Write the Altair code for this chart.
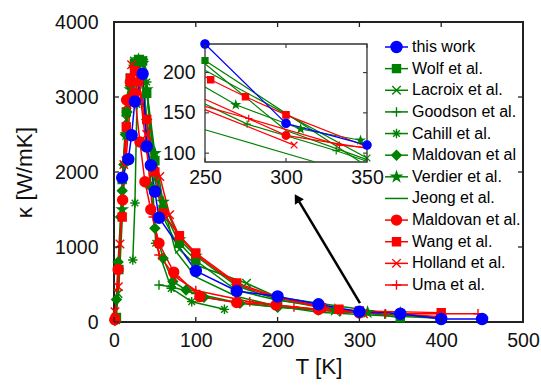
import altair as alt
import pandas as pd

# ---------------- series (main panel) ----------------
series_names = ["this work", "Wolf et al.", "Lacroix et al.", "Goodson et al.", "Cahill et al.",
                "Maldovan et al", "Verdier et al.", "Jeong et al.", "Maldovan et al.", "Wang et al.",
                "Holland et al.", "Uma et al."]

this_work_T = [10, 17.5, 21.5, 25.5, 35, 40, 45, 50, 55, 100, 150, 200, 250, 300, 350, 400, 450]
this_work_k = [1925, 2170, 2490, 2940, 3310, 2340, 2090, 1740, 1390, 680, 413, 340, 236, 137, 110, 40, 40]

wolf_T = [3, 6, 10, 15, 20, 25, 30, 35, 40, 50, 60, 80, 100, 150, 200, 250, 350]
wolf_k = [60, 700, 1900, 2800, 3250, 3450, 3500, 3480, 3050, 2150, 1500, 1050, 820, 420, 290, 215, 55]

lacroix_T = [2, 5, 10, 15, 20, 25, 30, 35, 40, 50, 60, 80, 100, 162, 200, 350]
lacroix_k = [30, 380, 1700, 2700, 3250, 3480, 3460, 3250, 2700, 1900, 1400, 970, 760, 516, 330, 94]

goodson_T = [55, 70, 100, 150, 200, 276, 331, 400]
goodson_k = [493, 470, 380, 260, 200, 136, 103, 60]

cahill_T = [23, 25.6, 28, 32, 36, 40, 45, 51, 70, 95, 135]
cahill_k = [827, 1587, 2900, 3450, 3500, 3200, 2300, 1050, 449, 271, 169]

maldovan_g_T = [1, 3, 5, 8, 10, 12, 14, 16, 20, 25, 30, 35, 40, 45, 50, 60, 72, 88, 110, 154, 200, 250, 300, 350]
maldovan_g_k = [20, 300, 800, 1400, 1750, 2100, 2500, 2800, 3150, 3400, 3450, 3300, 2700, 1800, 1250, 850, 540, 427, 330, 250, 195, 160, 128, 92]

verdier_T = [10, 15, 20, 25, 30, 35, 40, 50, 60, 80, 100, 150, 200, 270, 310, 350]
verdier_k = [1500, 2500, 3100, 3400, 3500, 3450, 3100, 2250, 1600, 1100, 880, 480, 300, 160, 130, 116]

jeong_T = [5, 10, 15, 20, 30, 40, 50, 75, 100, 150, 200, 250, 318, 400]
jeong_k = [250, 1350, 2500, 3150, 3480, 3100, 2000, 950, 600, 340, 210, 129, 89, 50]

maldovan_r_T = [1, 5, 10.6, 15.4, 20, 25, 31.7, 37.8, 45, 55, 73, 105, 150, 198, 250, 300, 350, 400]
maldovan_r_k = [30, 700, 1627, 2960, 3200, 3050, 2400, 1870, 1500, 1050, 665, 338, 260, 227, 167, 122, 106, 70]

wang_T = [10, 15, 20, 25, 30, 40, 50, 60, 80, 100, 150, 200, 253.5, 275, 300, 400]
wang_k = [1400, 2600, 3250, 3350, 3200, 2700, 2000, 1450, 1150, 920, 520, 330, 191, 170, 147.5, 125]

holland_T = [1.2, 5.3, 7.3, 12, 16, 21.5, 30, 40, 56, 68, 80, 100, 150, 200, 305]
holland_k = [137, 470, 1040, 2100, 2900, 3430, 3250, 2500, 1940, 1430, 1140, 900, 500, 320, 110]

uma_T = [15, 20, 30, 40, 48, 55, 75, 100, 166, 220, 277, 332, 445]
uma_k = [2200, 2900, 3200, 2300, 1400, 893, 600, 420, 271, 200, 143, 110, 110]

# ---------------- series as seen in the inset ----------------
in_blue_T = [250, 300, 350];            in_blue_k = [235.5, 137, 110];          in_blue_m = [1, 1, 1]
in_wolf_T = [250, 346];                 in_wolf_k = [215, 89];                  in_wolf_m = [1, 0]
in_lacroix_T = [250, 350];              in_lacroix_k = [203, 94];               in_lacroix_m = [0, 1]
in_goodson_T = [250, 276, 331, 350];    in_goodson_k = [161, 136, 103, 90];     in_goodson_m = [0, 1, 1, 0]
in_maldovan_g_T = [250, 300, 350];      in_maldovan_g_k = [211, 128, 92];       in_maldovan_g_m = [0, 0, 0]
in_verdier_T = [250, 269, 309, 346];    in_verdier_k = [182, 160, 130, 116];    in_verdier_m = [0, 1, 1, 1]
in_jeong_T = [250, 318];                in_jeong_k = [129, 89];                 in_jeong_m = [0, 0]
in_maldovan_r_T = [250, 300, 350];      in_maldovan_r_k = [167, 122, 106];      in_maldovan_r_m = [0, 1, 0]
in_wang_T = [250, 253.5, 275, 300, 350]; in_wang_k = [195, 191, 170, 147.5, 108]; in_wang_m = [0, 1, 1, 1, 0]
in_holland_T = [250, 305];              in_holland_k = [154, 110];              in_holland_m = [0, 1]
in_uma_T = [250, 277, 333, 350];        in_uma_k = [158, 143, 110, 107];        in_uma_m = [0, 1, 1, 0]

x_ticks = [0, 100, 200, 300, 400, 500]
y_ticks = [0, 1000, 2000, 3000, 4000]
inset_x_ticks = [250, 300, 350]
inset_y_ticks = [100, 150, 200]
inset_x_domain = [250, 350]
inset_y_domain = [89, 235.5]

# arrow (main-panel data coordinates): tail -> head
arrow_tail = [300.7, 253]
arrow_head = [223.8, 1652]

# ---------------- styles ----------------
BLUE, GREEN, RED = "#0000FF", "#008000", "#FF0000"
stroke_colors = [BLUE, GREEN, GREEN, GREEN, GREEN, GREEN, GREEN, GREEN, RED, RED, RED, RED]
fill_colors = [BLUE, GREEN, "transparent", "transparent", "transparent", GREEN, GREEN, "transparent",
               RED, RED, "transparent", "transparent"]
X_PATH = "M-1,-1L1,1M-1,1L1,-1"
PLUS_PATH = "M-1,0L1,0M0,-1L0,1"
AST_PATH = "M-1,0L1,0M0,-1L0,1M-0.7,-0.7L0.7,0.7M-0.7,0.7L0.7,-0.7"
STAR_PATH = ("M0,-1L0.225,-0.309L0.951,-0.309L0.363,0.118L0.588,0.809L0,0.382L-0.588,0.809"
             "L-0.363,0.118L-0.951,-0.309L-0.225,-0.309Z")
shapes = ["circle", "square", X_PATH, PLUS_PATH, AST_PATH, "diamond", STAR_PATH, "circle",
          "circle", "square", X_PATH, PLUS_PATH]
main_sizes = [121, 64, 72, 90, 90, 90, 100, 10, 100, 64, 72, 90]
inset_sizes = [70, 36, 45, 55, 55, 50, 60, 10, 60, 40, 45, 55]

stroke_scale = alt.Scale(domain=series_names, range=stroke_colors)
fill_scale = alt.Scale(domain=series_names, range=fill_colors)
shape_scale = alt.Scale(domain=series_names, range=shapes)

FONT = "Liberation Sans"
TXT = "#111111"

# ---------------- data frames ----------------
main_list = [this_work_T, wolf_T, lacroix_T, goodson_T, cahill_T, maldovan_g_T, verdier_T, jeong_T,
             maldovan_r_T, wang_T, holland_T, uma_T]
main_klist = [this_work_k, wolf_k, lacroix_k, goodson_k, cahill_k, maldovan_g_k, verdier_k, jeong_k,
              maldovan_r_k, wang_k, holland_k, uma_k]
rows = []
for si in list(range(1, 12)) + [0]:
    for i, (t, k) in enumerate(zip(main_list[si], main_klist[si])):
        rows.append(dict(series=series_names[si], T=t, k=k, order=i, size=main_sizes[si]))
main_df = pd.DataFrame(rows)

in_T = [in_blue_T, in_wolf_T, in_lacroix_T, in_goodson_T, None, in_maldovan_g_T, in_verdier_T, in_jeong_T,
        in_maldovan_r_T, in_wang_T, in_holland_T, in_uma_T]
in_k = [in_blue_k, in_wolf_k, in_lacroix_k, in_goodson_k, None, in_maldovan_g_k, in_verdier_k, in_jeong_k,
        in_maldovan_r_k, in_wang_k, in_holland_k, in_uma_k]
in_m = [in_blue_m, in_wolf_m, in_lacroix_m, in_goodson_m, None, in_maldovan_g_m, in_verdier_m, in_jeong_m,
        in_maldovan_r_m, in_wang_m, in_holland_m, in_uma_m]
rows = []
for si in list(range(1, 12)) + [0]:
    if in_T[si] is None:
        continue
    for i, (t, k, m) in enumerate(zip(in_T[si], in_k[si], in_m[si])):
        rows.append(dict(series=series_names[si], T=t, k=k, order=i, marked=m, size=inset_sizes[si]))
inset_df = pd.DataFrame(rows)

legend_df = pd.DataFrame({"series": series_names, "size": main_sizes})

W, H = 409, 300

# ---------------- main panel ----------------
mx = alt.Scale(domain=[0, 500], nice=False, zero=False)
my = alt.Scale(domain=[0, 4000], nice=False, zero=False)

main_lines = alt.Chart(main_df).mark_line(strokeWidth=1.5).encode(
    x=alt.X("T:Q", scale=mx, axis=alt.Axis(values=x_ticks, format="d", title="T [K]",
                                           labelPadding=9, titlePadding=6)),
    y=alt.Y("k:Q", scale=my, axis=alt.Axis(values=y_ticks, format="d", title="κ [W/mK]",
                                           labelPadding=16, titlePadding=18)),
    stroke=alt.Stroke("series:N", scale=stroke_scale, legend=None),
    detail="series:N",
    order=alt.Order("order:Q"),
)
main_points = alt.Chart(main_df).transform_filter(alt.datum.series != "Jeong et al.").mark_point(
    opacity=1, strokeWidth=1.4).encode(
    x=alt.X("T:Q", scale=mx), y=alt.Y("k:Q", scale=my),
    shape=alt.Shape("series:N", scale=shape_scale, legend=None),
    fill=alt.Fill("series:N", scale=fill_scale, legend=None),
    stroke=alt.Stroke("series:N", scale=stroke_scale, legend=None),
    size=alt.Size("size:Q", scale=None, legend=None),
)
xt = pd.DataFrame({"v": x_ticks})
yt = pd.DataFrame({"v": y_ticks})
tick_b = alt.Chart(xt).mark_rule(color="#222", strokeWidth=1.3).encode(
    x=alt.X("v:Q", scale=mx), y=alt.value(H), y2=alt.value(H - 5))
tick_t = alt.Chart(xt).mark_rule(color="#222", strokeWidth=1.3).encode(
    x=alt.X("v:Q", scale=mx), y=alt.value(0), y2=alt.value(5))
tick_l = alt.Chart(yt).mark_rule(color="#222", strokeWidth=1.3).encode(
    y=alt.Y("v:Q", scale=my), x=alt.value(0), x2=alt.value(5))
tick_r = alt.Chart(yt).mark_rule(color="#222", strokeWidth=1.3).encode(
    y=alt.Y("v:Q", scale=my), x=alt.value(W), x2=alt.value(W - 5))

arrow_df = pd.DataFrame({"t0": [arrow_tail[0]], "k0": [arrow_tail[1]],
                         "t1": [arrow_head[0]], "k1": [arrow_head[1]]})
arrow_line = alt.Chart(arrow_df).mark_rule(color="black", strokeWidth=2.5).encode(
    x=alt.X("t0:Q", scale=mx), y=alt.Y("k0:Q", scale=my), x2="t1:Q", y2="k1:Q")
arrow_headm = alt.Chart(arrow_df).mark_point(shape="triangle-up", angle=329, filled=True,
                                             color="black", opacity=1, size=110).encode(
    x=alt.X("t1:Q", scale=mx), y=alt.Y("k1:Q", scale=my))

main_group = alt.layer(main_lines, main_points, tick_b, tick_t, tick_l, tick_r, arrow_line, arrow_headm)

# ---------------- inset ----------------
ix = alt.Scale(domain=inset_x_domain, range=[91, 253], nice=False, zero=False)
iy = alt.Scale(domain=inset_y_domain, range=[140, 22], nice=False, zero=False)
frame_df = pd.DataFrame({"x0": [inset_x_domain[0]], "x1": [inset_x_domain[1]],
                         "y0": [inset_y_domain[0]], "y1": [inset_y_domain[1]]})
inset_frame = alt.Chart(frame_df).mark_rect(fill="white", stroke="#333", strokeWidth=1.3).encode(
    x=alt.X("x0:Q", scale=ix, axis=alt.Axis(orient="bottom", offset=-(H - 140), values=inset_x_ticks,
                                            format="d", title=None, labelPadding=6, zindex=1)),
    x2="x1:Q",
    y=alt.Y("y0:Q", scale=iy, axis=alt.Axis(orient="left", offset=-91, values=inset_y_ticks,
                                            format="d", title=None, labelPadding=10, zindex=1)),
    y2="y1:Q",
)
ixt = pd.DataFrame({"v": inset_x_ticks})
iyt = pd.DataFrame({"v": inset_y_ticks})
itick_b = alt.Chart(ixt).mark_rule(color="#333", strokeWidth=1.1).encode(
    x=alt.X("v:Q", scale=ix), y=alt.value(140), y2=alt.value(136))
itick_t = alt.Chart(ixt).mark_rule(color="#333", strokeWidth=1.1).encode(
    x=alt.X("v:Q", scale=ix), y=alt.value(22), y2=alt.value(26))
itick_l = alt.Chart(iyt).mark_rule(color="#333", strokeWidth=1.1).encode(
    y=alt.Y("v:Q", scale=iy), x=alt.value(91), x2=alt.value(95))
itick_r = alt.Chart(iyt).mark_rule(color="#333", strokeWidth=1.1).encode(
    y=alt.Y("v:Q", scale=iy), x=alt.value(253), x2=alt.value(249))
inset_lines = alt.Chart(inset_df).mark_line(strokeWidth=1.2).encode(
    x=alt.X("T:Q", scale=ix), y=alt.Y("k:Q", scale=iy),
    stroke=alt.Stroke("series:N", scale=stroke_scale, legend=None),
    detail="series:N", order=alt.Order("order:Q"),
)
inset_points = alt.Chart(inset_df).transform_filter(alt.datum.marked == 1).mark_point(
    opacity=1, strokeWidth=1.2).encode(
    x=alt.X("T:Q", scale=ix), y=alt.Y("k:Q", scale=iy),
    shape=alt.Shape("series:N", scale=shape_scale, legend=None),
    fill=alt.Fill("series:N", scale=fill_scale, legend=None),
    stroke=alt.Stroke("series:N", scale=stroke_scale, legend=None),
    size=alt.Size("size:Q", scale=None, legend=None),
)
inset_group = alt.layer(inset_frame, inset_lines, inset_points, itick_b, itick_t, itick_l, itick_r)

# ---------------- legend ----------------
ly = alt.Scale(type="point", domain=series_names, range=[25, 263], padding=0)
leg_rule = alt.Chart(legend_df).mark_rule(strokeWidth=1.5).encode(
    x=alt.value(271), x2=alt.value(294),
    y=alt.Y("series:N", scale=ly, axis=None),
    stroke=alt.Stroke("series:N", scale=stroke_scale, legend=None),
)
leg_pts = alt.Chart(legend_df).transform_filter(alt.datum.series != "Jeong et al.").mark_point(
    opacity=1, strokeWidth=1.4).encode(
    x=alt.value(282.5),
    y=alt.Y("series:N", scale=ly, axis=None),
    shape=alt.Shape("series:N", scale=shape_scale, legend=None),
    fill=alt.Fill("series:N", scale=fill_scale, legend=None),
    stroke=alt.Stroke("series:N", scale=stroke_scale, legend=None),
    size=alt.Size("size:Q", scale=None, legend=None),
)
leg_txt = alt.Chart(legend_df).mark_text(align="left", baseline="middle", fontSize=16, font=FONT,
                                         color="black").encode(
    x=alt.value(298), y=alt.Y("series:N", scale=ly, axis=None), text="series:N")
legend_group = alt.layer(leg_rule, leg_pts, leg_txt)

chart = alt.layer(main_group, inset_group, legend_group).resolve_scale(
    x="independent", y="independent"
).properties(
    width=W, height=H, autosize="none",
    padding={"left": 114, "top": 22, "right": 18, "bottom": 63},
).configure_view(stroke="#222", strokeWidth=2).configure_axis(
    grid=False, domain=False, ticks=False, labelFlush=False, labelOverlap=False,
    labelFont=FONT, labelFontSize=19.5, labelColor=TXT,
    titleFont=FONT, titleFontSize=22.5, titleFontWeight="normal", titleColor=TXT,
)

chart.save("out.html", embed_options={"renderer": "svg", "actions": False})
